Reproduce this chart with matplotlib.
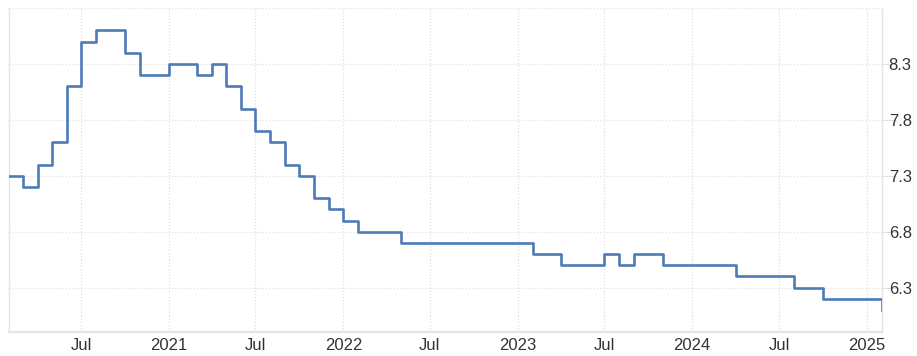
import matplotlib
matplotlib.use("Agg")
import matplotlib.pyplot as plt
import pandas as pd

# monthly readings, Feb 2020 .. Feb 2025
start_month = "2020-02-01"
values = [
    7.3, 7.2, 7.4, 7.6, 8.1, 8.5, 8.6, 8.6, 8.4, 8.2, 8.2,             # 2020
    8.3, 8.3, 8.2, 8.3, 8.1, 7.9, 7.7, 7.6, 7.4, 7.3, 7.1, 7.0,        # 2021
    6.9, 6.8, 6.8, 6.8, 6.7, 6.7, 6.7, 6.7, 6.7, 6.7, 6.7, 6.7,        # 2022
    6.7, 6.6, 6.6, 6.5, 6.5, 6.5, 6.6, 6.5, 6.6, 6.6, 6.5, 6.5,        # 2023
    6.5, 6.5, 6.5, 6.4, 6.4, 6.4, 6.4, 6.3, 6.3, 6.2, 6.2, 6.2,        # 2024
    6.2, 6.1,                                                          # 2025
]
y_ticks = [6.3, 6.8, 7.3, 7.8, 8.3]
y_limits = (5.9, 8.8)

LINE_COLOR = "#4d7bb7"
GRID_COLOR = "#e0e0e0"
TEXT_COLOR = "#333333"


def x_label(d):
    return "Jul" if d.month == 7 else str(d.year)


def main():
    plt.rcParams["font.family"] = ["Liberation Sans", "DejaVu Sans"]
    dates = pd.date_range(start_month, periods=len(values), freq="MS")

    fig = plt.figure(figsize=(9.17, 3.56), dpi=100)
    ax = fig.add_axes([9 / 917, 1 - 332.4 / 356, 872.7 / 917, 324.4 / 356])

    ax.step(dates, values, where="post", color=LINE_COLOR, linewidth=1.9,
            zorder=3)

    ax.set_xlim(dates[0], dates[-1])
    ax.set_ylim(*y_limits)

    # half-year ticks: Jan shows the year, Jul shows "Jul"
    x_ticks = pd.date_range("2020-07-01", "2025-01-01", freq="6MS")
    ax.set_xticks(x_ticks)
    ax.set_xticklabels([x_label(d) for d in x_ticks])
    ax.set_yticks(y_ticks)
    ax.set_yticklabels([f"{v:.1f}" for v in y_ticks])

    ax.yaxis.tick_right()
    ax.tick_params(axis="y", length=10, color=GRID_COLOR, pad=-5,
                   labelsize=12, labelcolor=TEXT_COLOR)
    ax.tick_params(axis="x", length=0, pad=4, labelsize=12,
                   labelcolor=TEXT_COLOR)

    ax.grid(True, color=GRID_COLOR, linestyle=(0, (1, 1.5)), linewidth=0.9)
    ax.axhline(y_limits[1], color=GRID_COLOR, linestyle=(0, (1, 1.5)),
               linewidth=0.9, clip_on=False)

    for side in ("left", "right", "bottom"):
        ax.spines[side].set_color("#e4e4e4")
        ax.spines[side].set_linewidth(1.0)
    ax.spines["bottom"].set_linewidth(1.6)
    ax.spines["top"].set_visible(False)

    fig.savefig("out.png", dpi=100)


if __name__ == "__main__":
    main()
